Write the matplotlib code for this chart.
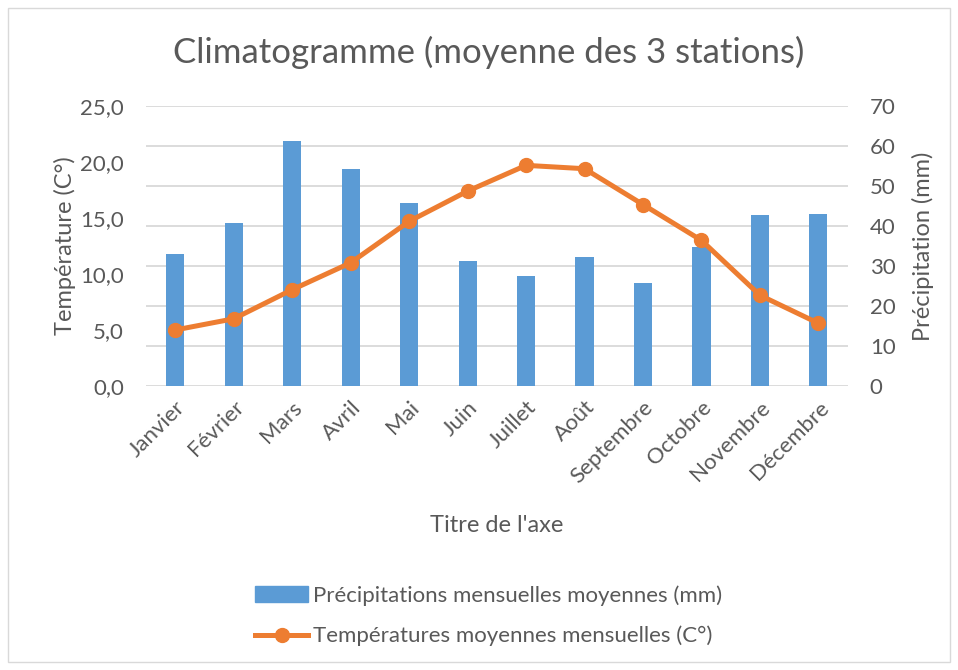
import matplotlib; matplotlib.use('Agg'); import matplotlib.pyplot as plt
from matplotlib.patches import Rectangle
from matplotlib.lines import Line2D
from matplotlib.ticker import FuncFormatter

plt.rcParams['font.family'] = ['Lato', 'DejaVu Sans']

mois = ["Janvier", "Février", "Mars", "Avril", "Mai", "Juin", "Juillet",
        "Août", "Septembre", "Octobre", "Novembre", "Décembre"]
precip = [32.9, 40.8, 61.3, 54.3, 45.8, 31.2, 27.6, 32.3, 25.8, 34.8, 42.8, 43.0]
temp = [5.0, 6.0, 8.6, 11.0, 14.7, 17.4, 19.7, 19.4, 16.2, 13.0, 8.1, 5.6]

BLUE = '#5B9BD5'; ORANGE = '#ED7D31'; GRID = '#D9D9D9'; TXT = '#595959'

fig = plt.figure(figsize=(9.58, 6.70), dpi=100, facecolor='white')
fig.patches.append(Rectangle((0.008, 0.012), 0.984, 0.976, transform=fig.transFigure,
                             fill=False, edgecolor='#D9D9D9', lw=1))
ax = fig.add_axes([0.1524, 0.4239, 0.7324, 0.4179])
ax2 = ax.twinx()

x = list(range(len(mois)))
ax2.bar(x, precip, width=0.31, color=BLUE, zorder=2)
ax2.set_ylim(0, 70)
ax2.set_yticks(range(0, 71, 10))
ax2.yaxis.grid(True, color=GRID, lw=1.3)
ax2.set_axisbelow(True)

ax.plot(x, temp, '-o', color=ORANGE, lw=3.6, ms=10, zorder=3)
ax.set_ylim(0, 25)
ax.set_yticks(range(0, 26, 5))
ax.yaxis.set_major_formatter(FuncFormatter(lambda v, p: ("%.1f" % v).replace('.', ',')))
ax.set_xlim(-0.5, 11.5)
ax.set_xticks(x)
ax.set_xticklabels(mois, rotation=45, ha='right', rotation_mode='anchor')
ax.set_zorder(ax2.get_zorder() + 1)
ax.patch.set_visible(False)

for a in (ax, ax2):
    for s in a.spines.values():
        s.set_visible(False)
    a.tick_params(length=0, labelsize=16, colors=TXT, pad=16)
ax.tick_params(axis='x', pad=8)

ax.set_ylabel("Température (C°)", fontsize=17, color=TXT, labelpad=3)
ax2.set_ylabel("Précipitation (mm)", fontsize=17, color=TXT, labelpad=12)
ax.set_xlabel("Titre de l'axe", fontsize=17, color=TXT, labelpad=20)
fig.text(0.51, 0.922, "Climatogramme (moyenne des 3 stations)", ha='center', va='center',
         fontsize=25, color=TXT)

handles = [Rectangle((0, 0), 1, 1, color=BLUE),
           Line2D([], [], color=ORANGE, lw=3.6, marker='o', ms=10)]
labels = ["Précipitations mensuelles moyennes (mm)", "Températures moyennes mensuelles (C°)"]
leg = fig.legend(handles, labels, loc='center', bbox_to_anchor=(0.51, 0.081), frameon=False,
                 fontsize=16, handlelength=2.4, handletextpad=0.2, labelspacing=0.9)
for t in leg.get_texts():
    t.set_color(TXT)

plt.savefig("out.png", dpi=100)
